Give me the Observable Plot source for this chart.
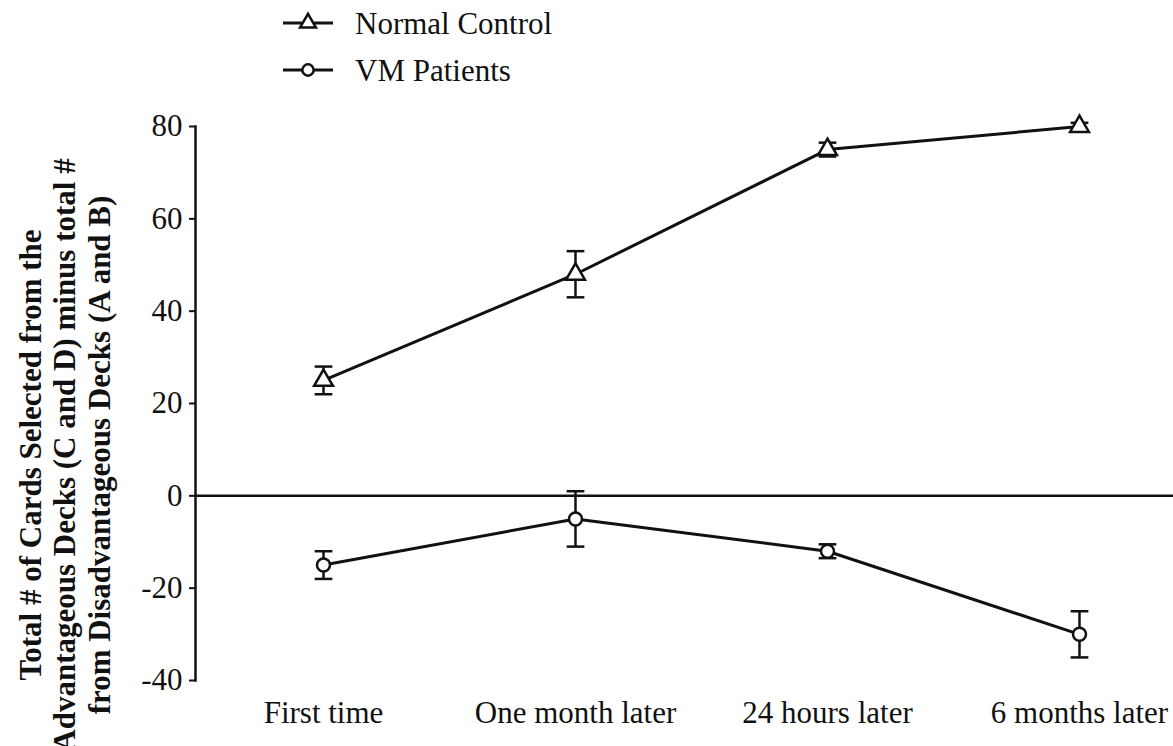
<!DOCTYPE html>
<html>
<head>
<meta charset="utf-8">
<script src="https://cdn.jsdelivr.net/npm/d3@7"></script>
<script src="https://cdn.jsdelivr.net/npm/@observablehq/plot@0.6"></script>
<style>
  html, body { margin: 0; padding: 0; background: #fff; }
  #chart { position: relative; width: 1173px; height: 746px; overflow: hidden; }
</style>
</head>
<body>
<div id="chart"></div>
<script>
// ---- data ----
const categories = ["First time", "One month later", "24 hours later", "6 months later"];
const ncMean = [25, 48, 75, 80];
const ncErr  = [3, 5, 1.5, 0.8];
const vmMean = [-15, -5, -12, -30];
const vmErr  = [3, 6, 1.5, 5];
const seriesNames = ["Normal Control", "VM Patients"];
const yTicks = [-40, -20, 0, 20, 40, 60, 80];
const yLabelLines = [
  "Total # of Cards Selected from the",
  "Advantageous Decks (C and D) minus total #",
  "from Disadvantageous Decks (A and B)"
];

const rows = [];
categories.forEach((c, i) => {
  rows.push({series: seriesNames[0], cat: c, y: ncMean[i], e: ncErr[i]});
  rows.push({series: seriesNames[1], cat: c, y: vmMean[i], e: vmErr[i]});
});
const nc = rows.filter(d => d.series === seriesNames[0]);
const vm = rows.filter(d => d.series === seriesNames[1]);

const ink = "#111";
const capSymbol = {
  draw(ctx, size) {
    const w = Math.sqrt(size);
    ctx.moveTo(-w, 0);
    ctx.lineTo(w, 0);
  }
};

const svg = Plot.plot({
  width: 1173,
  height: 746,
  marginTop: 126,
  marginBottom: 66,
  marginLeft: 195,
  marginRight: 0,
  style: {fontFamily: "'Liberation Serif', 'Times New Roman', serif", fontSize: "31px", color: ink, background: "#fff", overflow: "visible"},
  x: {type: "point", domain: categories, range: [322, 1080], padding: 0},
  y: {domain: [-40, 80]},
  marks: [
    Plot.frame({anchor: "left", stroke: ink, strokeWidth: 2.5}),
    Plot.ruleY([0], {stroke: ink, strokeWidth: 2.5}),
    Plot.axisY({ticks: yTicks, tickSize: 6, tickPadding: 7, tickFormat: d => String(d), strokeWidth: 2, fontSize: 31, label: null}),
    Plot.axisX({tickSize: 0, tickPadding: 20, fontSize: 31, label: null}),
    // error bars
    Plot.ruleX(rows, {x: "cat", y1: d => d.y - d.e, y2: d => d.y + d.e, stroke: ink, strokeWidth: 2.5}),
    Plot.dot(rows, {x: "cat", y: d => d.y + d.e, symbol: capSymbol, r: 5, stroke: ink, strokeWidth: 2.5}),
    Plot.dot(rows, {x: "cat", y: d => d.y - d.e, symbol: capSymbol, r: 5, stroke: ink, strokeWidth: 2.5}),
    // lines
    Plot.line(nc, {x: "cat", y: "y", stroke: ink, strokeWidth: 3}),
    Plot.line(vm, {x: "cat", y: "y", stroke: ink, strokeWidth: 3}),
    // markers
    Plot.dot(nc, {x: "cat", y: "y", symbol: "triangle", r: 7, fill: "#fff", stroke: ink, strokeWidth: 2.5}),
    Plot.dot(vm, {x: "cat", y: "y", symbol: "circle", r: 6.5, fill: "#fff", stroke: ink, strokeWidth: 2.5})
  ]
});

document.getElementById("chart").appendChild(svg);

const s = d3.select(svg);
// y-axis title (three lines)
const yl = s.append("g")
  .attr("font-family", "'Liberation Serif', 'Times New Roman', serif")
  .attr("font-weight", "bold")
  .attr("font-size", 31)
  .attr("fill", ink)
  .attr("text-anchor", "middle");
const lineX = [30, 64, 99];
yLabelLines.forEach((t, i) => {
  yl.append("text")
    .attr("transform", `translate(${lineX[i]},455) rotate(-90)`)
    .attr("dominant-baseline", "central")
    .text(t);
});

// legend
const lg = s.append("g")
  .attr("font-family", "'Liberation Serif', 'Times New Roman', serif")
  .attr("font-size", 31)
  .attr("fill", ink)
  .attr("text-anchor", "start");
const legendSymbols = [d3.symbolTriangle, d3.symbolCircle];
const legendY = [23, 70];
seriesNames.forEach((name, i) => {
  const g = lg.append("g").attr("transform", `translate(283,${legendY[i]})`);
  g.append("line").attr("x1", 0).attr("x2", 50).attr("stroke", ink).attr("stroke-width", 3);
  g.append("path")
    .attr("d", d3.symbol(legendSymbols[i], i === 0 ? 110 : 100)())
    .attr("transform", "translate(25,0)")
    .attr("fill", "#fff").attr("stroke", ink).attr("stroke-width", 2.5);
  g.append("text").attr("x", 72).attr("dy", "0.35em").attr("text-anchor", "start").text(name);
});
</script>
</body>
</html>
